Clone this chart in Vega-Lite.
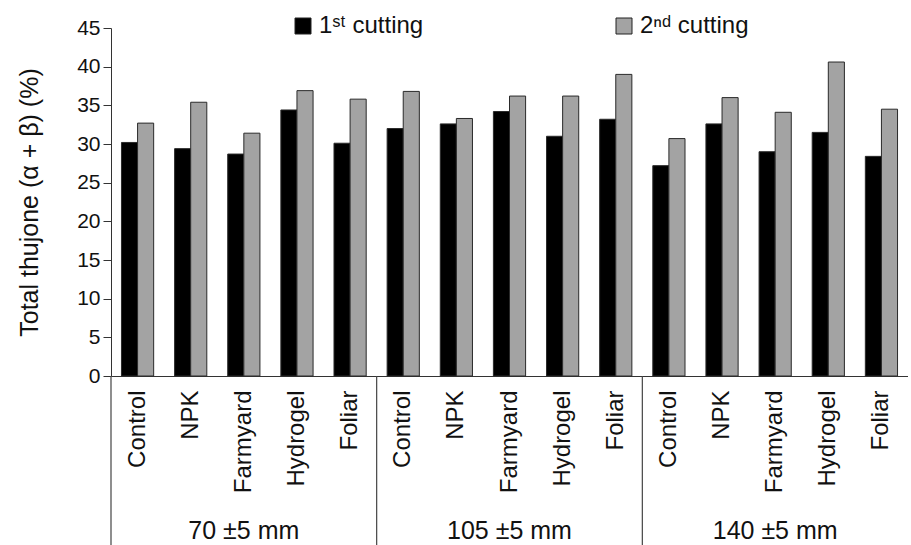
{
  "$schema": "https://vega.github.io/schema/vega-lite/v6.json",
  "width": 797,
  "height": 348,
  "padding": {"left": 17, "top": 14, "right": 0, "bottom": 0},
  "background": "white",
  "config": {
    "view": {"stroke": null},
    "font": "Liberation Sans",
    "text": {"font": "Liberation Sans"},
    "axisY": {"labelOverlap": false}
  },
  "data": {
    "values": [
      {"irrigation": "70 ±5 mm", "treatment": "Control", "key": "70|Control", "cutting": "1st cutting", "value": 30.2},
      {"irrigation": "70 ±5 mm", "treatment": "Control", "key": "70|Control", "cutting": "2nd cutting", "value": 32.7},
      {"irrigation": "70 ±5 mm", "treatment": "NPK", "key": "70|NPK", "cutting": "1st cutting", "value": 29.4},
      {"irrigation": "70 ±5 mm", "treatment": "NPK", "key": "70|NPK", "cutting": "2nd cutting", "value": 35.4},
      {"irrigation": "70 ±5 mm", "treatment": "Farmyard", "key": "70|Farmyard", "cutting": "1st cutting", "value": 28.7},
      {"irrigation": "70 ±5 mm", "treatment": "Farmyard", "key": "70|Farmyard", "cutting": "2nd cutting", "value": 31.4},
      {"irrigation": "70 ±5 mm", "treatment": "Hydrogel", "key": "70|Hydrogel", "cutting": "1st cutting", "value": 34.4},
      {"irrigation": "70 ±5 mm", "treatment": "Hydrogel", "key": "70|Hydrogel", "cutting": "2nd cutting", "value": 36.9},
      {"irrigation": "70 ±5 mm", "treatment": "Foliar", "key": "70|Foliar", "cutting": "1st cutting", "value": 30.1},
      {"irrigation": "70 ±5 mm", "treatment": "Foliar", "key": "70|Foliar", "cutting": "2nd cutting", "value": 35.8},
      {"irrigation": "105 ±5 mm", "treatment": "Control", "key": "105|Control", "cutting": "1st cutting", "value": 32.0},
      {"irrigation": "105 ±5 mm", "treatment": "Control", "key": "105|Control", "cutting": "2nd cutting", "value": 36.8},
      {"irrigation": "105 ±5 mm", "treatment": "NPK", "key": "105|NPK", "cutting": "1st cutting", "value": 32.6},
      {"irrigation": "105 ±5 mm", "treatment": "NPK", "key": "105|NPK", "cutting": "2nd cutting", "value": 33.3},
      {"irrigation": "105 ±5 mm", "treatment": "Farmyard", "key": "105|Farmyard", "cutting": "1st cutting", "value": 34.2},
      {"irrigation": "105 ±5 mm", "treatment": "Farmyard", "key": "105|Farmyard", "cutting": "2nd cutting", "value": 36.2},
      {"irrigation": "105 ±5 mm", "treatment": "Hydrogel", "key": "105|Hydrogel", "cutting": "1st cutting", "value": 31.0},
      {"irrigation": "105 ±5 mm", "treatment": "Hydrogel", "key": "105|Hydrogel", "cutting": "2nd cutting", "value": 36.2},
      {"irrigation": "105 ±5 mm", "treatment": "Foliar", "key": "105|Foliar", "cutting": "1st cutting", "value": 33.2},
      {"irrigation": "105 ±5 mm", "treatment": "Foliar", "key": "105|Foliar", "cutting": "2nd cutting", "value": 39.0},
      {"irrigation": "140 ±5 mm", "treatment": "Control", "key": "140|Control", "cutting": "1st cutting", "value": 27.2},
      {"irrigation": "140 ±5 mm", "treatment": "Control", "key": "140|Control", "cutting": "2nd cutting", "value": 30.7},
      {"irrigation": "140 ±5 mm", "treatment": "NPK", "key": "140|NPK", "cutting": "1st cutting", "value": 32.6},
      {"irrigation": "140 ±5 mm", "treatment": "NPK", "key": "140|NPK", "cutting": "2nd cutting", "value": 36.0},
      {"irrigation": "140 ±5 mm", "treatment": "Farmyard", "key": "140|Farmyard", "cutting": "1st cutting", "value": 29.0},
      {"irrigation": "140 ±5 mm", "treatment": "Farmyard", "key": "140|Farmyard", "cutting": "2nd cutting", "value": 34.1},
      {"irrigation": "140 ±5 mm", "treatment": "Hydrogel", "key": "140|Hydrogel", "cutting": "1st cutting", "value": 31.5},
      {"irrigation": "140 ±5 mm", "treatment": "Hydrogel", "key": "140|Hydrogel", "cutting": "2nd cutting", "value": 40.6},
      {"irrigation": "140 ±5 mm", "treatment": "Foliar", "key": "140|Foliar", "cutting": "1st cutting", "value": 28.4},
      {"irrigation": "140 ±5 mm", "treatment": "Foliar", "key": "140|Foliar", "cutting": "2nd cutting", "value": 34.5}
    ]
  },
  "encoding": {
    "x": {
      "field": "key", "type": "nominal", "sort": null,
      "scale": {"paddingInner": 0, "paddingOuter": 0},
      "axis": {
        "title": null,
        "labelExpr": "split(datum.label, '|')[1]",
        "labelAngle": -90, "labelAlign": "right", "labelBaseline": "middle",
        "labelFontSize": 24, "labelColor": "#111", "labelPadding": 14,
        "ticks": false, "domainColor": "#333", "domainWidth": 1.2
      }
    },
    "y": {
      "field": "value", "type": "quantitative",
      "scale": {"domain": [0, 45], "nice": false, "zero": true},
      "axis": {
        "title": "Total thujone (α + β) (%)",
        "titleFontSize": 25, "titleFontWeight": "normal", "titleColor": "#111", "titlePadding": 34,
        "values": [0, 5, 10, 15, 20, 25, 30, 35, 40, 45],
        "labelOverlap": false, "labelFlush": false, "labelBound": false, "labelSeparation": 0,
        "labelFontSize": 21, "labelColor": "#111", "labelPadding": 3,
        "tickSize": 8, "tickColor": "#333", "domainColor": "#333", "grid": false
      }
    }
  },
  "layer": [
    {
      "mark": {"type": "bar", "stroke": "#2a2a2a", "strokeWidth": 1},
      "encoding": {
        "xOffset": {
          "field": "cutting", "type": "nominal",
          "scale": {"paddingOuter": 0.65, "paddingInner": 0}
        },
        "color": {
          "field": "cutting", "type": "nominal",
          "scale": {"domain": ["1st cutting", "2nd cutting"], "range": ["#000000", "#a3a3a3"]},
          "legend": {
            "title": null, "orient": "none", "direction": "horizontal",
            "legendX": 180, "legendY": -14,
            "symbolType": "square", "symbolSize": 256, "symbolStrokeColor": "#222", "symbolStrokeWidth": 1,
            "symbolOpacity": 1,
            "labelFontSize": 24, "labelColor": "#111", "labelOffset": 4,
            "columnPadding": 188,
            "labelExpr": "datum.label == '1st cutting' ? '1ˢᵗ cutting' : '2ⁿᵈ cutting'"
          }
        }
      }
    },
    {
      "transform": [{"filter": "datum.treatment == 'Control' && datum.cutting == '1st cutting'"}],
      "mark": {"type": "rule", "color": "#444", "strokeWidth": 1.2, "clip": false},
      "encoding": {
        "x": {"field": "key", "type": "nominal", "sort": null, "bandPosition": 0},
        "y": {"datum": 0, "type": "quantitative"},
        "y2": {"datum": -22}
      }
    },
    {
      "transform": [{"filter": "datum.treatment == 'Farmyard' && datum.cutting == '1st cutting'"}],
      "mark": {"type": "text", "fontSize": 25, "color": "#111", "baseline": "middle", "clip": false},
      "encoding": {
        "y": {"datum": -20.0, "type": "quantitative"},
        "text": {"field": "irrigation"}
      }
    }
  ]
}
